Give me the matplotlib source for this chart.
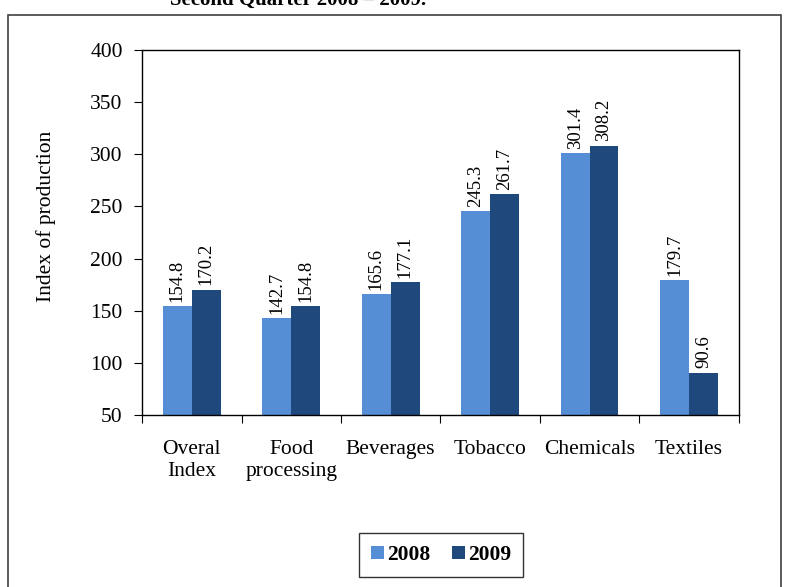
import numpy as np
import matplotlib.pyplot as plt
from matplotlib.patches import Rectangle

categories = ['Overal\nIndex', 'Food\nprocessing', 'Beverages', 'Tobacco', 'Chemicals', 'Textiles']
values_2008 = [154.8, 142.7, 165.6, 245.3, 301.4, 179.7]
values_2009 = [170.2, 154.8, 177.1, 261.7, 308.2, 90.6]
years = ['2008', '2009']

plt.rcParams['font.family'] = ['Liberation Serif', 'DejaVu Serif']

fig = plt.figure(figsize=(7.85, 5.87), dpi=100)
ax = fig.add_axes([0.181, 0.293, 0.76, 0.622])

x = np.arange(len(categories))
w = 0.29
b1 = ax.bar(x - w/2, np.array(values_2008) - 50, w, bottom=50, color='#558ed5', label=years[0])
b2 = ax.bar(x + w/2, np.array(values_2009) - 50, w, bottom=50, color='#1f497d', label=years[1])

for bars, vals in [(b1, values_2008), (b2, values_2009)]:
    for r, v in zip(bars, vals):
        ax.annotate(f'{v:.1f}', (r.get_x() + r.get_width()/2, v), xytext=(0, 3),
                    textcoords='offset points', rotation=90,
                    ha='center', va='bottom', fontsize=13.5)

ax.set_ylim(50, 400)
ax.set_yticks(range(50, 401, 50))
ax.set_xlim(-0.5, len(categories) - 0.5)
ax.set_xticks(np.arange(-0.5, len(categories)), labels=[''] * (len(categories) + 1))
ax.set_xticks(x, labels=categories, minor=True)
ax.tick_params(axis='x', which='minor', length=0, pad=18, labelsize=15.5)
ax.tick_params(axis='x', which='major', length=6, direction='out')
ax.tick_params(axis='y', length=6, direction='out', labelsize=15.5, pad=8)
ax.set_ylabel('Index of production', fontsize=15.5)
ax.yaxis.set_label_coords(-0.144, 0.545)
for s in ax.spines.values():
    s.set_linewidth(1.0)

leg = fig.legend(loc='center', bbox_to_anchor=(0.562, 0.0545), ncol=2, frameon=True,
                 fancybox=False, edgecolor='black', handlelength=0.6, handleheight=0.6,
                 handletextpad=0.15, columnspacing=1.0, borderpad=0.55,
                 prop={'weight': 'bold', 'size': 15.5})
leg.get_frame().set_linewidth(1.0)

fig.patches.append(Rectangle((8/785, -0.05), 773/785, 1 - 15/587 + 0.05,
                             transform=fig.transFigure, fill=False,
                             edgecolor='#404040', linewidth=1.2))
fig.text(0.38, 1 - 5/587, 'Second Quarter 2008 \u2013 2009.', ha='center', va='baseline',
         fontsize=15, fontweight='bold')

plt.savefig('out.png', dpi=100)
